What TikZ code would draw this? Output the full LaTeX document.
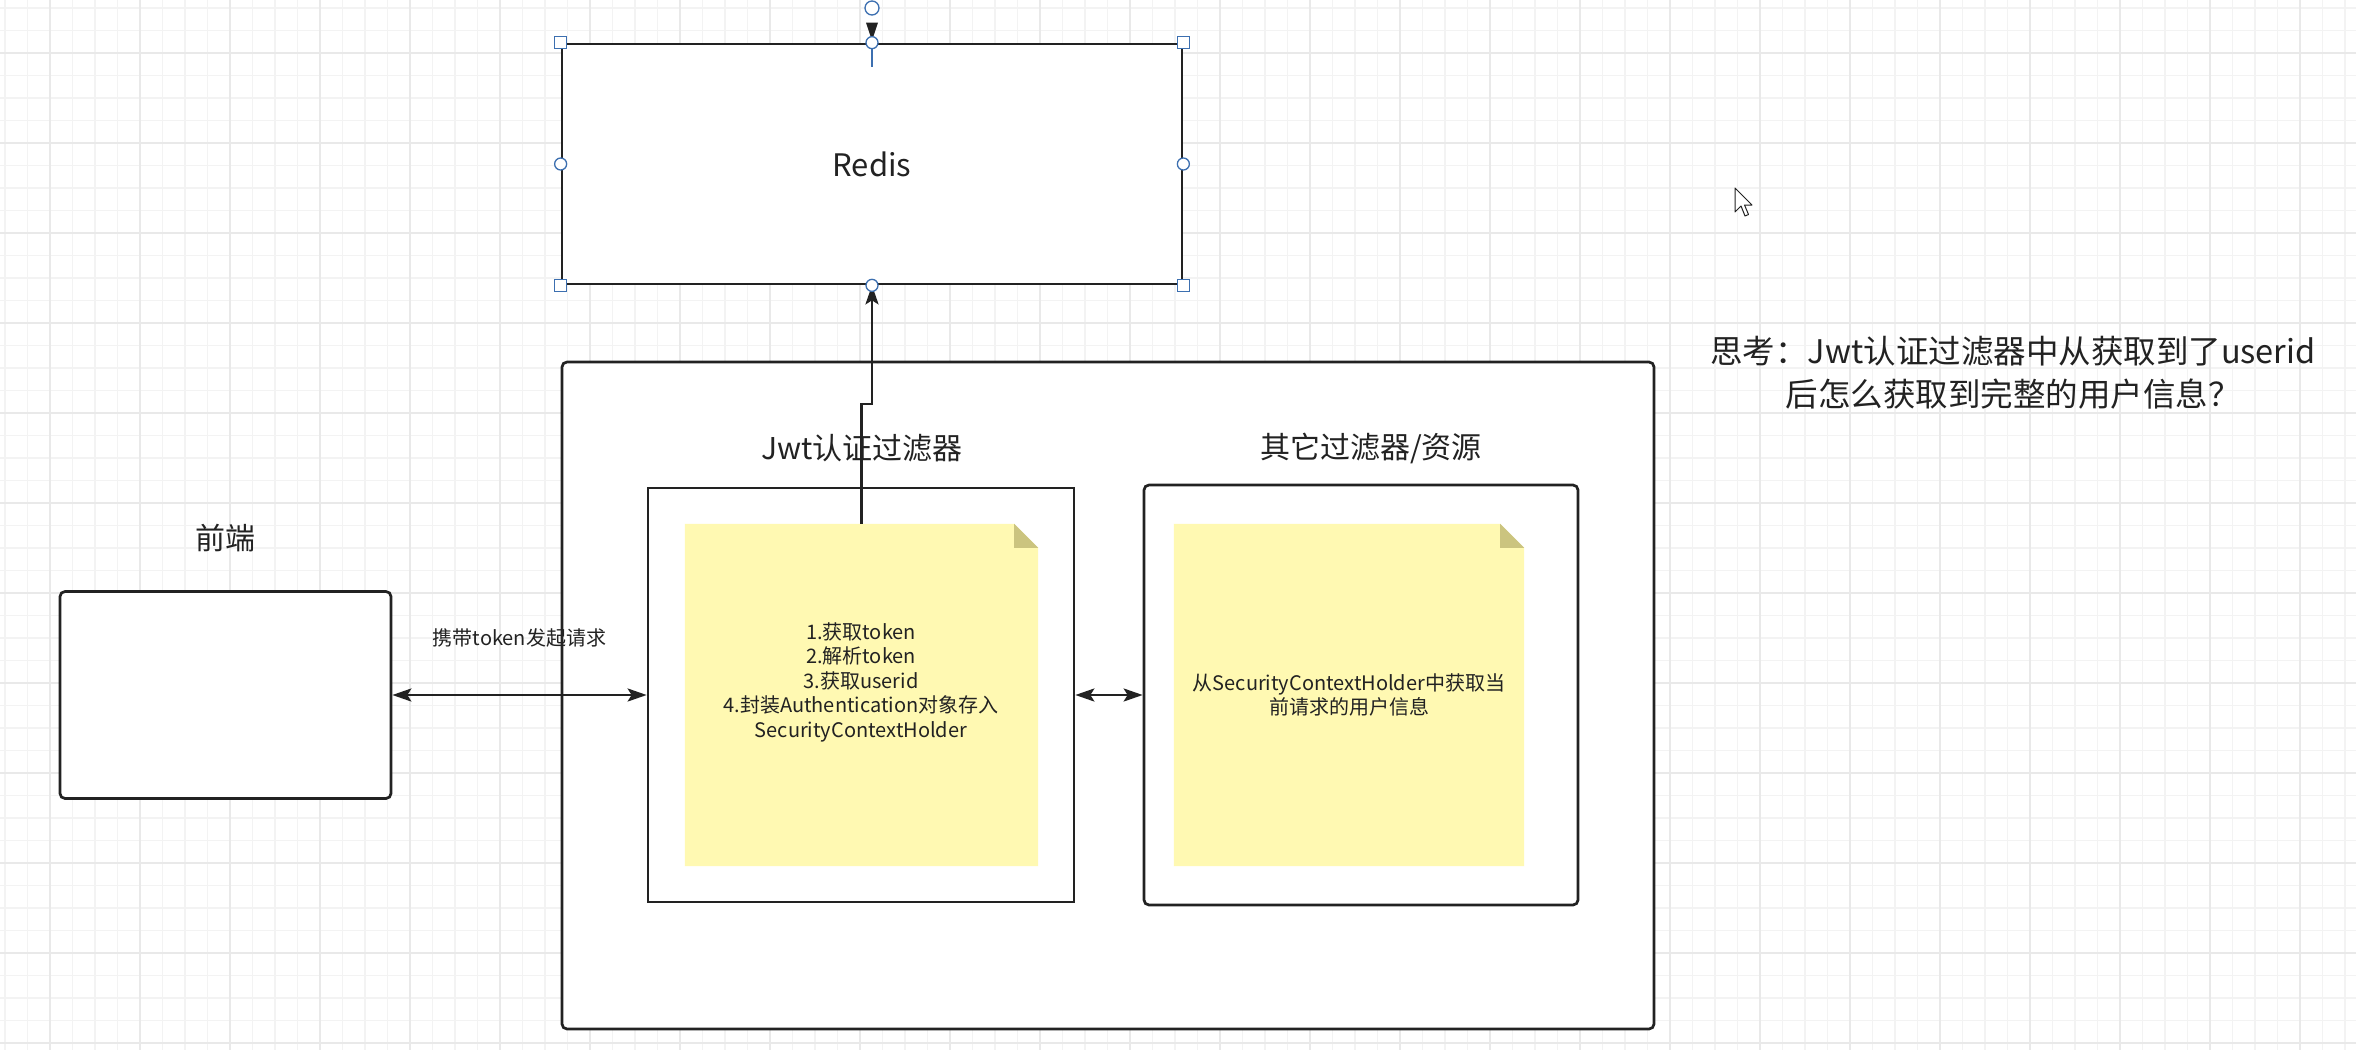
\documentclass[tikz,border=0pt]{standalone}
\usepackage{fontspec}
\setmainfont{Noto Sans CJK SC}
\usetikzlibrary{arrows.meta}
\definecolor{ink}{HTML}{222222}
\definecolor{noteyellow}{HTML}{FFF9B2}
\definecolor{notefold}{HTML}{CBC47F}
\definecolor{gridminor}{HTML}{F3F3F3}
\definecolor{gridmajor}{HTML}{E9E9E9}
\definecolor{selblue}{HTML}{3C6FB0}
\newcommand\myfs[2]{\fontsize{#1pt}{#2pt}\selectfont}
\tikzset{
  box/.style={draw=ink, line width=2.7pt, fill=white, inner sep=0pt},
  rbox/.style={box, rounded corners=5pt},
  notebox/.style={inner sep=0pt},
  conn/.style={draw=ink, line width=2.6pt},
  tipx/.tip={Stealth[length=19pt,width=13pt,inset=4pt]},
  txt/.style={text=ink, inner sep=0pt, align=center},
  handlesq/.style={draw=selblue, fill=white, line width=1.3pt, minimum size=12pt, inner sep=0pt},
  handlec/.style={draw=selblue, fill=white, line width=1.3pt, circle, minimum size=12pt, inner sep=0pt}
}
\begin{document}
\begin{tikzpicture}[x=1pt,y=-1pt]
\useasboundingbox (0,0) rectangle (2356,1050);
\fill[white] (0,0) rectangle (2356,1050);
% grid
\foreach \i in {0,...,104} \draw[gridminor, line width=1.2pt] ({5+22.5*\i},0) -- ({5+22.5*\i},1050);
\foreach \i in {0,...,47} \draw[gridminor, line width=1.2pt] (0,{8+22.5*\i}) -- (2356,{8+22.5*\i});
\foreach \i in {0,...,26} \draw[gridmajor, line width=1.2pt] ({50+90*\i},0) -- ({50+90*\i},1050);
\foreach \i in {0,...,11} \draw[gridmajor, line width=1.2pt] (0,{53+90*\i}) -- (2356,{53+90*\i});

% Redis
\node[box, minimum width=620pt, minimum height=240pt, font={\myfs{31}{36}}, text=ink] (redis) at (872,164) {Redis};

% outer container
\node[rbox, minimum width=1092pt, minimum height=667pt] (outer) at (1108,695.5) {};

% titles
\node[txt, font={\myfs{30}{36}}] (jwttitle) at (862,448) {Jwt认证过滤器};
\node[txt, font={\myfs{30}{36}}] (othertitle) at (1371,448) {其它过滤器/资源};

% inner boxes
\node[box, minimum width=426pt, minimum height=414pt] (jwtbox) at (861,695) {};
\node[rbox, minimum width=434pt, minimum height=420pt] (otherbox) at (1361,695) {};

% notes
\node[notebox, minimum width=353pt, minimum height=342pt] (note1) at (861.5,695) {};
\node[notebox, minimum width=350pt, minimum height=342pt] (note2) at (1349,695) {};
\foreach \n in {note1,note2}{
  \fill[noteyellow] (\n.north west) -- ([xshift=-24pt]\n.north east) -- ([yshift=-24pt]\n.north east) -- (\n.south east) -- (\n.south west) -- cycle;
  \fill[notefold] ([xshift=-24pt]\n.north east) -- ([yshift=-24pt]\n.north east) -- ([xshift=-24pt,yshift=-24pt]\n.north east) -- cycle;
}
\node[txt, font={\myfs{20}{24.5}}] (note1txt) at (861,682) {1.获取token\\2.解析token\\3.获取userid\\4.封装Authentication对象存入\\SecurityContextHolder};
\node[txt, font={\myfs{20}{24.5}}] (note2txt) at (1349,695) {从SecurityContextHolder中获取当\\前请求的用户信息};

% front end
\node[txt, font={\myfs{30}{36}}] (frontlabel) at (225,538) {前端};
\node[rbox, minimum width=331pt, minimum height=207pt] (front) at (225.5,695) {};

% connectors
\draw[conn, {tipx}-{tipx}] (front.east) -- node[txt, above=46pt, font={\myfs{20}{24}}] (reqlabel) {携带token发起请求} (jwtbox.west);
\draw[conn, {tipx}-{tipx}] (jwtbox.east) -- (otherbox.west);
\draw[conn, -{tipx}] (note1.north) -- ++(0,-120) -| (redis.south);

% thinking text
\node[txt, font={\myfs{32.5}{43}}] (think) at (2013,373) {思考：Jwt认证过滤器中从获取到了userid\\后怎么获取到完整的用户信息？};

% selection handles on Redis
\draw[selblue, line width=1.3pt] (redis.north) -- ++(0,24);
\fill[ink] ([yshift=2pt]redis.north) -- ++(-6,-18) -- ++(12,0) -- cycle;
\node[handlec, minimum size=14pt] (rot) at (872,8) {};
\foreach \a in {north west,north east,south west,south east} \node[handlesq] at (redis.\a) {};
\foreach \a in {north,south,west,east} \node[handlec] at (redis.\a) {};

% mouse cursor
\draw[ink, fill=white, line width=1pt, line join=round] (1735,188) -- (1735,212) -- (1741,206) -- (1745,216) -- (1748.5,214.5) -- (1744.5,205) -- (1752,205) -- cycle;
\end{tikzpicture}
\end{document}
